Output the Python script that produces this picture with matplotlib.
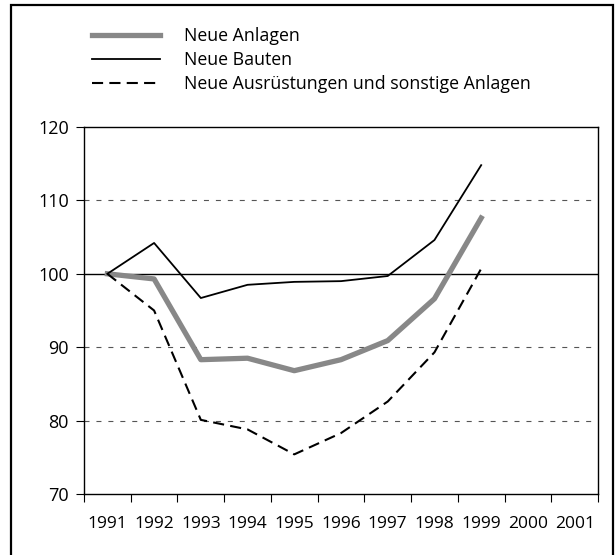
import matplotlib
matplotlib.use("Agg")
import matplotlib.pyplot as plt
from matplotlib.lines import Line2D
from matplotlib.patches import Rectangle

years = ["1991", "1992", "1993", "1994", "1995", "1996", "1997", "1998", "1999", "2000", "2001"]
data_years = years[:9]
neue_anlagen = [100.0, 99.3, 88.3, 88.5, 86.8, 88.3, 90.9, 96.6, 107.6]
neue_bauten = [100.0, 104.2, 96.7, 98.5, 98.9, 99.0, 99.7, 104.6, 114.8]
neue_ausruestungen = [100.0, 95.0, 80.1, 78.8, 75.4, 78.3, 82.6, 89.3, 100.7]
series_labels = ["Neue Anlagen", "Neue Bauten", "Neue Ausrüstungen und sonstige Anlagen"]
y_ticks = [70, 80, 90, 100, 110, 120]

plt.rcParams['font.family'] = ['Open Sans', 'DejaVu Sans']
plt.rcParams['lines.scale_dashes'] = False

W, H = 615, 555
fig = plt.figure(figsize=(W / 100, H / 100), dpi=100)
ax = fig.add_axes([84 / W, 1 - 494 / H, (598 - 84) / W, (494 - 127) / H])

x = list(range(len(data_years)))
ax.set_xlim(-0.5, len(years) - 0.5)
ax.set_ylim(70, 120)

for yv in [80, 90, 110]:
    ax.axhline(yv, color='#555555', lw=0.8, linestyle=(0, (3.6, 5.0)), zorder=1)
ax.axhline(100, color='black', lw=1.0, zorder=2)

l1, = ax.plot(x, neue_anlagen, color='#888888', lw=3.8, solid_joinstyle='round', zorder=3)
l2, = ax.plot(x, neue_bauten, color='black', lw=1.3, zorder=4)
l3, = ax.plot(x, neue_ausruestungen, color='black', lw=1.5, linestyle=(0, (8, 4.5)), zorder=4)

ax.set_yticks(y_ticks)
ax.set_yticklabels([str(v) for v in y_ticks], fontsize=13)
ax.set_xticks([i - 0.5 for i in range(len(years) + 1)])
ax.set_xticklabels([])
ax.set_xticks(range(len(years)), minor=True)
ax.set_xticklabels(years, minor=True, fontsize=12.5)
ax.tick_params(axis='x', which='minor', length=0, pad=16)
ax.tick_params(axis='x', which='major', length=6, width=0.8, direction='out')
ax.tick_params(axis='y', length=6, width=0.8, direction='out', pad=5)
for s in ax.spines.values():
    s.set_linewidth(1.0)

fig.legend([l1, l2, l3], series_labels, loc='upper left',
           bbox_to_anchor=(92 / W, 1 - 27 / H), frameon=False, fontsize=12.8,
           handlelength=3.8, handletextpad=1.4, labelspacing=0.33, borderaxespad=0,
           borderpad=0)

fig.patches.append(Rectangle((11 / W, -0.1), (613 - 11) / W, 1.1 - 5 / H,
                             transform=fig.transFigure, fill=False,
                             edgecolor='black', lw=1.6))

fig.savefig("out.png", dpi=100)
